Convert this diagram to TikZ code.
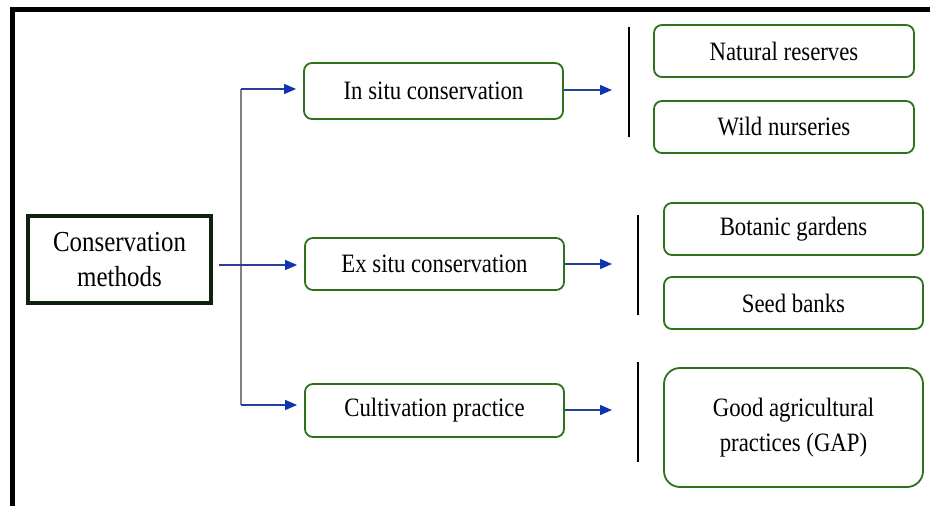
\documentclass[tikz,border=0pt]{standalone}
\usepackage{fontspec}
\setmainfont{Liberation Serif}[FakeStretch=0.86]
\usetikzlibrary{arrows.meta}
\definecolor{boxgreen}{RGB}{48,112,26}
\definecolor{darkframe}{RGB}{16,32,16}
\definecolor{arrowblue}{RGB}{35,65,150}
\definecolor{headblue}{RGB}{16,52,175}
\begin{document}
\begin{tikzpicture}[x=1pt,y=-1pt,
  box/.style={draw=boxgreen, line width=1.8pt, rounded corners=8pt, fill=white,
    inner sep=0pt, align=center, font=\fontsize{26.5}{35}\selectfont},
  mainbox/.style={draw=darkframe, line width=3.5pt, fill=white, inner sep=0pt,
    align=center, font=\fontsize{29}{35}\selectfont},
  arr/.style={draw=arrowblue, line width=1.3pt, -{Triangle[length=12pt,width=10pt,color=headblue]}},
  trunk/.style={draw=gray, line width=1.5pt},
  sepline/.style={draw=black, line width=1.3pt}
]
\useasboundingbox (0,0) rectangle (930,506);
% outer frame (top and left edges)
\draw[line width=5pt] (12.5,506) -- (12.5,9.5) -- (930,9.5);

% nodes
\node[mainbox, minimum width=183pt, minimum height=87pt] (cm) at (119.5,259.5) {Conservation\\methods};
\node[box, minimum width=259pt, minimum height=56pt] (insitu) at (433.5,91) {In situ conservation};
\node[box, minimum width=259pt, minimum height=52pt] (exsitu) at (434.5,264) {Ex situ conservation};
\node[box, minimum width=259pt, minimum height=53pt] (cult) at (434.5,410.5) {Cultivation practice};
\node[box, minimum width=260pt, minimum height=52pt] (nr) at (784,51) {Natural reserves};
\node[box, minimum width=260pt, minimum height=52pt] (wn) at (784,127) {Wild nurseries};
\node[box, minimum width=259pt, minimum height=52pt] (bg) at (793.5,229) {Botanic gardens};
\node[box, minimum width=259pt, minimum height=52pt] (sb) at (793.5,303) {Seed banks};
\node[box, rounded corners=16pt, minimum width=259pt, minimum height=119pt] (gap) at (793.5,427.5) {Good agricultural\\practices (GAP)};

% trunk
\coordinate (j1) at (241,89);
\coordinate (j2) at (241,265);
\coordinate (j3) at (241,405);
\draw[trunk] (j1) -- (j3);
\draw[arr, shorten >=7pt] (j1) -- (j1 -| insitu.west);
\draw[arr, shorten <=6pt, shorten >=7pt] (cm.east |- j2) -- (j2 -| exsitu.west);
\draw[arr, shorten >=7pt] (j3) -- (j3 -| cult.west);

% right arrows
\coordinate (t1) at (612,90);
\coordinate (t2) at (612,264);
\coordinate (t3) at (612,410);
\draw[arr] (insitu.east |- t1) -- (t1);
\draw[arr] (exsitu.east |- t2) -- (t2);
\draw[arr] (cult.east |- t3) -- (t3);

% separator lines
\coordinate (s1a) at (629,27);  \coordinate (s1b) at (629,137);
\coordinate (s2a) at (638,215); \coordinate (s2b) at (638,315);
\coordinate (s3a) at (638,362); \coordinate (s3b) at (638,462);
\draw[sepline] (s1a) -- (s1b);
\draw[sepline] (s2a) -- (s2b);
\draw[sepline] (s3a) -- (s3b);
\end{tikzpicture}
\end{document}
